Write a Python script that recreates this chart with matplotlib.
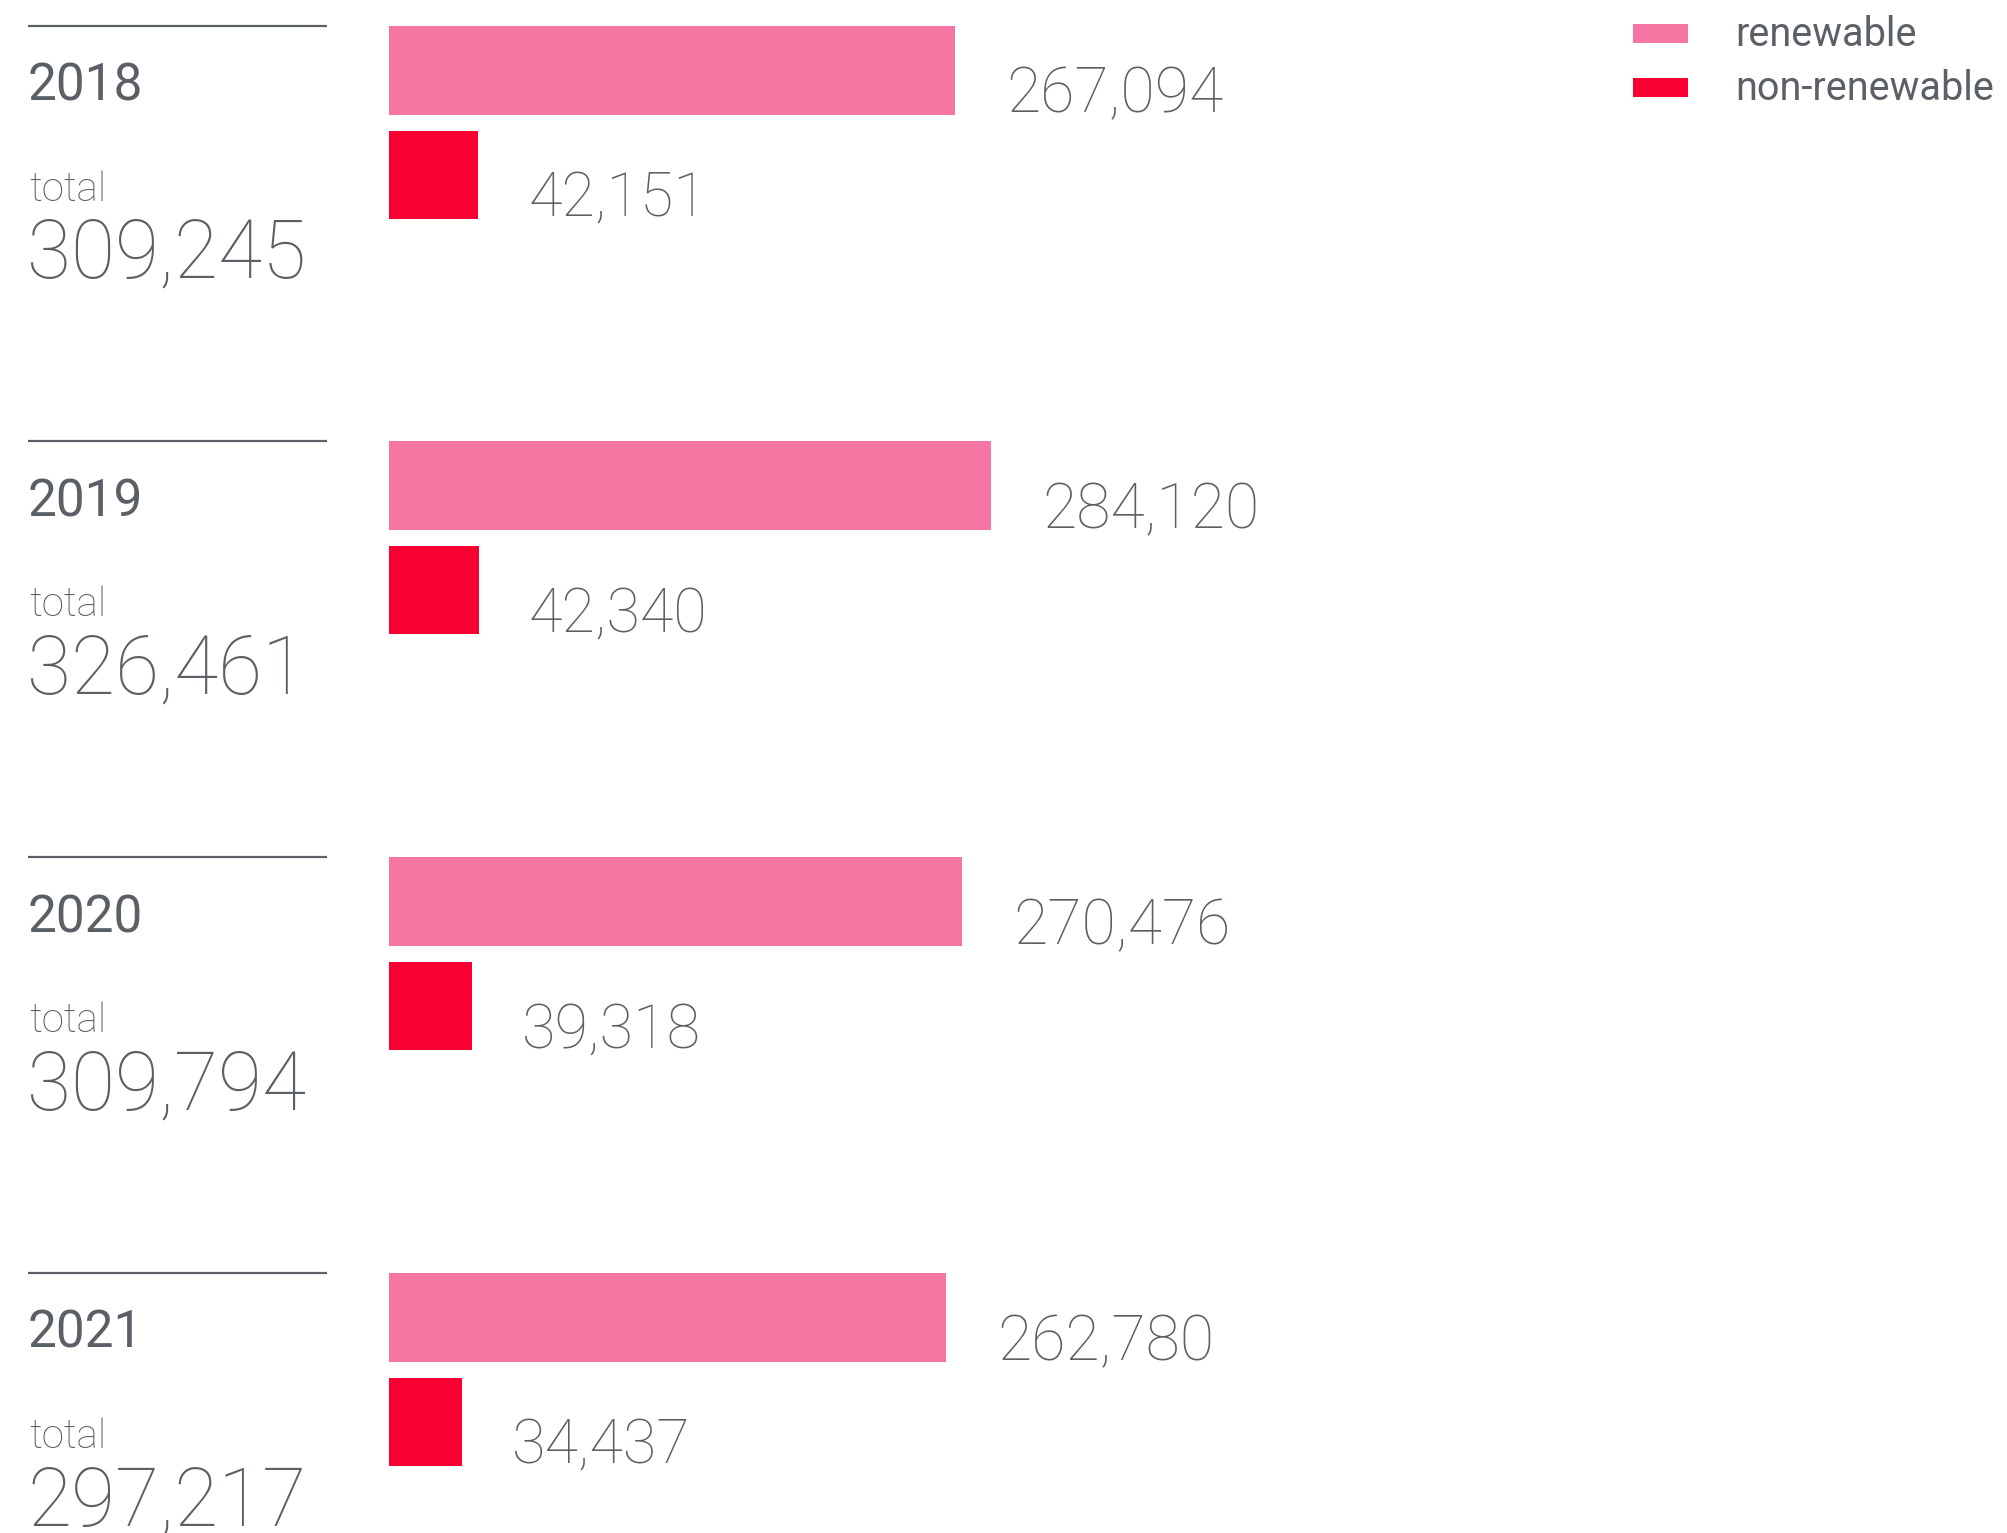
import matplotlib
matplotlib.use("Agg")
import matplotlib.pyplot as plt
from matplotlib.patches import Rectangle
from matplotlib.transforms import blended_transform_factory

years = ["2018", "2019", "2020", "2021"]
renewable = [267094, 284120, 270476, 262780]
non_renewable = [42151, 42340, 39318, 34437]
totals = [309245, 326461, 309794, 297217]

PINK = "#f576a3"
RED = "#f80032"
GREY = "#5b6067"
W, H = 2008, 1533

plt.rcParams["font.family"] = ["Roboto", "DejaVu Sans"]

fig = plt.figure(figsize=(W / 100, H / 100), dpi=100)
ax = fig.add_axes([0, 0, 1, 1])
ax.axis("off")

# value axis: 0 sits at x=389px, 0.002118 px per unit
x0, ppu = 389, 0.002118
ax.set_xlim(-x0 / ppu, (W - x0) / ppu)
ax.set_ylim(H, 0)

left = blended_transform_factory(ax.transAxes, ax.transData)

for i, yr in enumerate(years):
    top = 25.6 + 415.8 * i

    # separator line above each year block
    ax.plot([28 / W, 327 / W], [top, top], color=GREY, lw=1.6, transform=left,
            solid_capstyle="butt")
    ax.text(28 / W, top + 75, yr, transform=left, fontsize=37, color=GREY,
            va="baseline", ha="left")
    ax.text(29 / W, top + 175, "total", transform=left, fontsize=29,
            fontweight="light", color=GREY, va="baseline")
    ax.text(27 / W, top + 252, f"{totals[i]:,}", transform=left, fontsize=58,
            fontweight="light", color=GREY, va="baseline")

    ax.barh(top + 44.5, renewable[i], height=89, left=0, color=PINK)
    ax.barh(top + 149, non_renewable[i], height=88, left=0, color=RED)

    ax.annotate(f"{renewable[i]:,}", xy=(renewable[i], top + 87),
                xytext=(37, 0), textcoords="offset points", fontsize=45,
                fontweight="light", color=GREY, va="baseline")
    ax.annotate(f"{non_renewable[i]:,}", xy=(non_renewable[i], top + 190),
                xytext=(36, 0), textcoords="offset points", fontsize=44,
                fontweight="light", color=GREY, va="baseline")

# legend in the top-right corner
for (lab, col, y) in [("renewable", PINK, 24), ("non-renewable", RED, 78)]:
    fig.add_artist(Rectangle((1633 / W, 1 - (y + 19) / H), 55 / W, 19 / H,
                             transform=fig.transFigure, color=col, lw=0))
    fig.text(1735 / W, 1 - (y + 22) / H, lab, fontsize=28.5, color=GREY,
             va="baseline")

fig.savefig("out.png", dpi=100)
